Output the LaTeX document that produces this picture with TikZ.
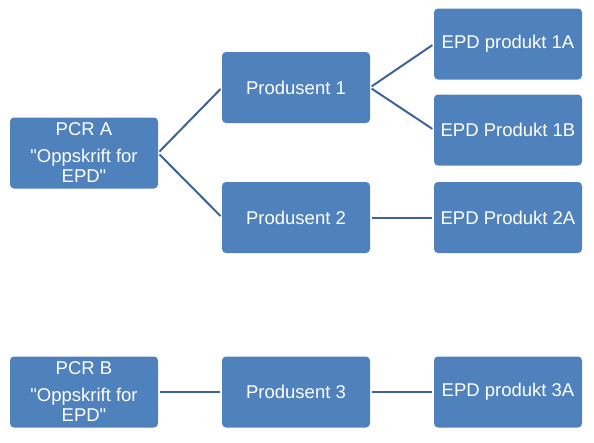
\documentclass[tikz,border=0pt]{standalone}
\usepackage{fontspec}
\setmainfont{Liberation Sans}
\usepackage{tikz}
\usetikzlibrary{positioning}
\definecolor{boxblue}{HTML}{4F81BD}
\definecolor{lineblue}{HTML}{3F6396}

\begin{document}
\begin{tikzpicture}[
box/.style = {rectangle, rounded corners=4pt, fill=boxblue, text=white,
  minimum width=148pt, minimum height=71pt, inner sep=0pt, outer sep=0pt,
  align=center, font=\fontsize{18.5}{20}\selectfont},
link/.style = {draw=lineblue, line width=2pt, shorten <=2pt, shorten >=2pt}
]
\useasboundingbox (0,0) rectangle (594pt,-442pt);

\node [box] (pcrA) at (84pt, -153pt) {PCR A\\[7pt] \textquotedbl Oppskrift for\\ EPD\textquotedbl};
\node [box] (prod1) at (296pt, -87.5pt) {Produsent 1};
\node [box, below=59pt of prod1] (prod2) {Produsent 2};

\node [box] (epd1a) at (508pt, -44pt) {EPD produkt 1A};
\node [box, below=15pt of epd1a] (epd1b) {EPD Produkt 1B};
\node [box, right=64pt of prod2] (epd2a) {EPD Produkt 2A};

\node [box] (pcrB) at (84pt, -392pt) {PCR B\\[7pt] \textquotedbl Oppskrift for\\ EPD\textquotedbl};
\node [box, right=64pt of pcrB] (prod3) {Produsent 3};
\node [box, right=64pt of prod3] (epd3a) {EPD produkt 3A};

% connectors
\draw[link] (pcrA.east) -- (prod1.west);
\draw[link] (pcrA.east) -- (prod2.west);
\draw[link] (prod1.east) -- (epd1a.west);
\draw[link] (prod1.east) -- (epd1b.west);
\draw[link] (prod2.east) -- (epd2a.west);
\draw[link] (pcrB.east) -- (prod3.west);
\draw[link] (prod3.east) -- (epd3a.west);

\end{tikzpicture}
\end{document}
